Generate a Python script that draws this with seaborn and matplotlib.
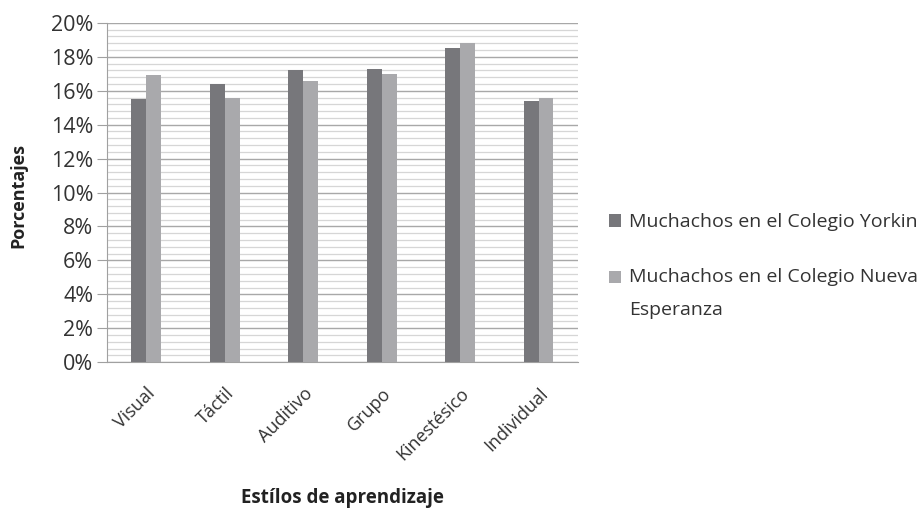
import numpy as np
import pandas as pd
import matplotlib
matplotlib.use("Agg")
import matplotlib.pyplot as plt
from matplotlib.ticker import MultipleLocator, PercentFormatter
import seaborn as sns

categorias = ["Visual", "Táctil", "Auditivo", "Grupo", "Kinestésico", "Individual"]
yorkin = [15.5, 16.4, 17.2, 17.3, 18.5, 15.4]
nueva_esperanza = [16.9, 15.6, 16.6, 17.0, 18.8, 15.6]
series = ["Muchachos en el Colegio Yorkin", "Muchachos en el Colegio Nueva\nEsperanza"]

df = pd.DataFrame({
    "estilo": categorias * 2,
    "valor": yorkin + nueva_esperanza,
    "grupo": [series[0]] * len(categorias) + [series[1]] * len(categorias),
})

sns.set_style("white")
plt.rcParams["font.family"] = ["Open Sans", "DejaVu Sans"]

fig = plt.figure(figsize=(9.23, 5.08), dpi=100)
ax = fig.add_axes([0.116, 0.287, 0.51, 0.668])

sns.barplot(data=df, x="estilo", y="valor", hue="grupo", order=categorias,
            hue_order=series, palette=["#77777b", "#a9a9ac"], width=0.38,
            gap=0, saturation=1, edgecolor="none", ax=ax, zorder=3)

ax.set_ylim(0, 20)
ax.set_xlim(-0.5, len(categorias) - 0.5)
ax.yaxis.set_major_locator(MultipleLocator(2))
ax.yaxis.set_minor_locator(MultipleLocator(0.4))
ax.yaxis.set_major_formatter(PercentFormatter(decimals=0))
ax.grid(which="major", axis="y", color="#a8a8a8", linewidth=1.0, zorder=0)
ax.grid(which="minor", axis="y", color="#d6d6d6", linewidth=0.9, zorder=0)
ax.set_axisbelow(True)

for s in ["top", "right"]:
    ax.spines[s].set_visible(False)
ax.spines["left"].set_color("#a0a0a0")
ax.spines["bottom"].set_color("#a0a0a0")

ax.tick_params(axis="y", which="major", length=7, color="#a0a0a0", left=True,
               labelsize=15.5, labelcolor="#333333", pad=3)
ax.tick_params(axis="y", which="minor", length=0)
ax.tick_params(axis="x", length=0, labelsize=13, labelcolor="#333333", pad=16)
plt.setp(ax.get_xticklabels(), rotation=45, ha="right", rotation_mode="anchor")

ax.set_xlabel("Estílos de aprendizaje", fontsize=13.5, fontweight="bold",
              color="#222222", va="top")
ax.xaxis.set_label_coords(0.5, -0.372)
ax.set_ylabel("Porcentajes", fontsize=13, fontweight="bold", color="#222222")
ax.yaxis.set_label_coords(-0.17, 0.49)

leg = ax.legend(loc="upper left", bbox_to_anchor=(1.03, 0.49), frameon=False,
                fontsize=14, handlelength=0.6, handleheight=0.6, handletextpad=0.4,
                labelspacing=1.9, labelcolor="#333333")
for t in leg.get_texts():
    t.set_linespacing(2.02)
# square of the wrapped entry sits on its first line
h = leg.legend_handles[1]
h.set_y(h.get_y() + 12.2)

fig.savefig("out.png", dpi=100)
